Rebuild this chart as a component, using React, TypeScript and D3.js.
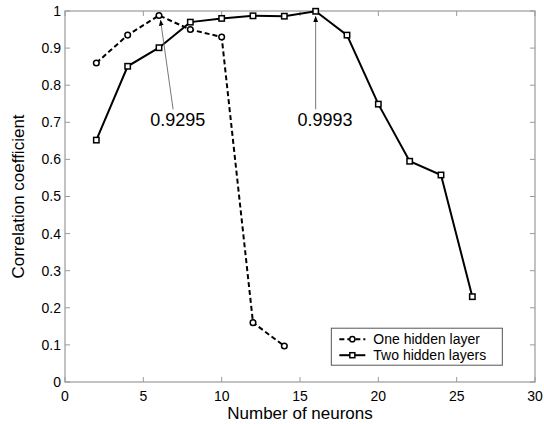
import React from "react";
import { scaleLinear, line, range } from "d3";

const neurons1 = [2, 4, 6, 8, 10, 12, 14];
const oneHidden = [0.86, 0.935, 0.988, 0.95, 0.93, 0.16, 0.097];
const neurons2 = [2, 4, 6, 8, 10, 12, 14, 16, 18, 20, 22, 24, 26];
const twoHidden = [0.652, 0.851, 0.901, 0.97, 0.98, 0.987, 0.986, 0.9993, 0.935, 0.749, 0.595, 0.558, 0.23];
const xTicks = [0, 5, 10, 15, 20, 25, 30];
const yTicks = range(0, 11).map((i) => i / 10);
const seriesNames = ["One hidden layer", "Two hidden layers"];

export default function App() {
  const width = 544;
  const height = 424;
  const margin = { top: 11, right: 9, bottom: 42, left: 65 };
  const innerWidth = width - margin.left - margin.right;
  const innerHeight = height - margin.top - margin.bottom;
  const font = "Arial, 'Liberation Sans', sans-serif";
  const axisColor = "#9a9a9a";

  const xScale = scaleLinear().domain([0, 30]).range([0, innerWidth]);
  const yScale = scaleLinear().domain([0, 1]).range([innerHeight, 0]);

  const pts1 = neurons1.map((n, i) => [n, oneHidden[i]] as [number, number]);
  const pts2 = neurons2.map((n, i) => [n, twoHidden[i]] as [number, number]);
  const path = line<[number, number]>()
    .x((d) => xScale(d[0]))
    .y((d) => yScale(d[1]));

  const tick = 5;

  // annotation anchors (in data units)
  const ann1 = { from: [6.9, 0.735], to: [6.1, 0.975], label: "0.9295", lx: 7.2, ly: 0.69 };
  const ann2 = { from: [16, 0.735], to: [16, 0.985], label: "0.9993", lx: 16.6, ly: 0.69 };

  return (
    <svg width={width} height={height} style={{ position: "absolute", left: 0, top: 0, background: "#fff" }}>
      <defs>
        <marker id="arr" viewBox="0 0 10 10" refX="9" refY="5" markerWidth="6" markerHeight="7" orient="auto">
          <path d="M0,1 L10,5 L0,9 z" fill="#000" />
        </marker>
      </defs>
      <g transform={`translate(${margin.left},${margin.top})`} fontFamily={font}>
        <rect x={0} y={0} width={innerWidth} height={innerHeight} fill="none" stroke={axisColor} strokeWidth={1.2} />
        {xTicks.map((t) => (
          <g key={t} transform={`translate(${xScale(t)},0)`}>
            <line y1={innerHeight} y2={innerHeight - tick} stroke={axisColor} />
            <line y1={0} y2={tick} stroke={axisColor} />
            <text y={innerHeight + 19} textAnchor="middle" fontSize={14} fill="#000">
              {t}
            </text>
          </g>
        ))}
        {yTicks.map((t) => (
          <g key={t} transform={`translate(0,${yScale(t)})`}>
            <line x1={0} x2={tick} stroke={axisColor} />
            <line x1={innerWidth} x2={innerWidth - tick} stroke={axisColor} />
            <text x={-4} dy="0.35em" textAnchor="end" fontSize={14} fill="#000">
              {t === 0 || t === 1 ? t : t.toFixed(1)}
            </text>
          </g>
        ))}
        <text x={innerWidth / 2} y={innerHeight + 37} textAnchor="middle" fontSize={17}>
          Number of neurons
        </text>
        <text transform={`translate(-41,${innerHeight / 2}) rotate(-90)`} textAnchor="middle" fontSize={17}>
          Correlation coefficient
        </text>

        <path d={path(pts1) || ""} fill="none" stroke="#000" strokeWidth={2} strokeDasharray="5,3" />
        <path d={path(pts2) || ""} fill="none" stroke="#000" strokeWidth={2} />
        {pts1.map((d, i) => (
          <circle key={i} cx={xScale(d[0])} cy={yScale(d[1])} r={2.8} fill="#fff" stroke="#000" strokeWidth={1.5} />
        ))}
        {pts2.map((d, i) => (
          <rect key={i} x={xScale(d[0]) - 2.7} y={yScale(d[1]) - 2.7} width={5.4} height={5.4} fill="#fff" stroke="#000" strokeWidth={1.5} />
        ))}

        {[ann1, ann2].map((a) => (
          <g key={a.label}>
            <line
              x1={xScale(a.from[0])}
              y1={yScale(a.from[1])}
              x2={xScale(a.to[0])}
              y2={yScale(a.to[1])}
              stroke="#777"
              strokeWidth={1}
              markerEnd="url(#arr)"
            />
            <text x={xScale(a.lx)} y={yScale(a.ly)} textAnchor="middle" fontSize={18}>
              {a.label}
            </text>
          </g>
        ))}

        <g transform={`translate(${xScale(17)},${yScale(0.145)})`}>
          <rect width={171} height={37} fill="#fff" stroke="#555" strokeWidth={1} />
          {seriesNames.map((name, i) => (
            <g key={name} transform={`translate(0,${11 + i * 16})`}>
              <line x1={8} x2={34} stroke="#000" strokeWidth={2} strokeDasharray={i === 0 ? "5,3" : undefined} />
              {i === 0 ? (
                <circle cx={21} cy={0} r={2.6} fill="#fff" stroke="#000" strokeWidth={1.5} />
              ) : (
                <rect x={18.5} y={-2.5} width={5} height={5} fill="#fff" stroke="#000" strokeWidth={1.5} />
              )}
              <text x={42} dy="0.35em" fontSize={14}>
                {name}
              </text>
            </g>
          ))}
        </g>
      </g>
    </svg>
  );
}
